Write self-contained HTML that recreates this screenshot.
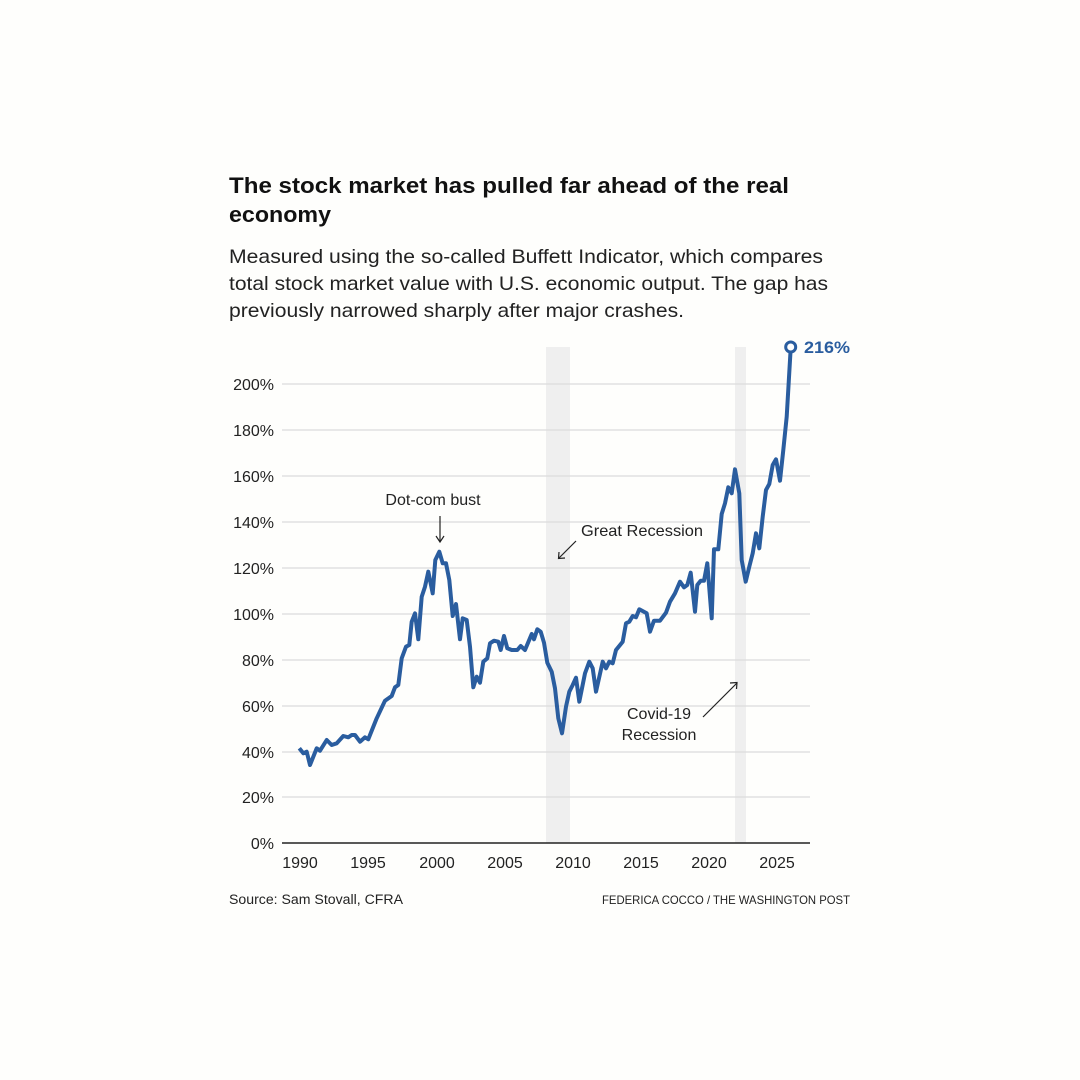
<!DOCTYPE html>
<html><head><meta charset="utf-8"><style>
html,body{margin:0;padding:0;background:#fefefc;}
svg{display:block;font-family:"Liberation Sans",sans-serif;}
</style></head><body>
<svg width="1080" height="1080" viewBox="0 0 1080 1080">
<rect width="1080" height="1080" fill="#fefefc"/>
<text x="229" y="193" font-size="22" font-weight="bold" fill="#111" textLength="560" lengthAdjust="spacingAndGlyphs">The stock market has pulled far ahead of the real</text>
<text x="229" y="222" font-size="22" font-weight="bold" fill="#111" textLength="102" lengthAdjust="spacingAndGlyphs">economy</text>
<text x="229" y="263" font-size="19.5" fill="#222" textLength="594" lengthAdjust="spacingAndGlyphs">Measured using the so-called Buffett Indicator, which compares</text>
<text x="229" y="290" font-size="19.5" fill="#222" textLength="599" lengthAdjust="spacingAndGlyphs">total stock market value with U.S. economic output. The gap has</text>
<text x="229" y="317" font-size="19.5" fill="#222" textLength="455" lengthAdjust="spacingAndGlyphs">previously narrowed sharply after major crashes.</text>
<rect x="546" y="347" width="24" height="496" fill="#efefef"/>
<rect x="735" y="347" width="11" height="496" fill="#efefef"/>
<g stroke="#dcdcdc" stroke-width="1.2">
<line x1="282" x2="810" y1="384" y2="384"/><line x1="282" x2="810" y1="430" y2="430"/>
<line x1="282" x2="810" y1="476" y2="476"/><line x1="282" x2="810" y1="522" y2="522"/>
<line x1="282" x2="810" y1="568" y2="568"/><line x1="282" x2="810" y1="614" y2="614"/>
<line x1="282" x2="810" y1="660" y2="660"/><line x1="282" x2="810" y1="706" y2="706"/>
<line x1="282" x2="810" y1="752" y2="752"/><line x1="282" x2="810" y1="797" y2="797"/>
</g>
<line x1="282" x2="810" y1="843" y2="843" stroke="#222" stroke-width="1.5"/>
<g font-size="16" fill="#222" text-anchor="end">
<text x="274" y="390">200%</text><text x="274" y="436">180%</text><text x="274" y="482">160%</text>
<text x="274" y="528">140%</text><text x="274" y="574">120%</text><text x="274" y="620">100%</text>
<text x="274" y="666">80%</text><text x="274" y="712">60%</text><text x="274" y="758">40%</text>
<text x="274" y="803">20%</text><text x="274" y="849">0%</text>
</g>
<g font-size="16" fill="#222" text-anchor="middle">
<text x="300" y="868">1990</text><text x="368" y="868">1995</text><text x="437" y="868">2000</text>
<text x="505" y="868">2005</text><text x="573" y="868">2010</text><text x="641" y="868">2015</text>
<text x="709" y="868">2020</text><text x="777" y="868">2025</text>
</g>
<polyline fill="none" stroke="#2a5d9f" stroke-width="4" stroke-linejoin="round" points="299.3,748.3 303.3,753.3 306.7,751.7 310,765 316.7,748.3 320,750.7 326.7,740 331.7,745 336.7,743.3 343.3,736 348.3,737.3 351.7,735 355,735 360,741.7 365,737.3 368.3,739.3 376.7,718.3 385,700.7 391.7,696 395,687.3 398.3,685 401.7,658.3 406,646.7 409.3,645 411.7,621.7 415,613.3 418.3,639.3 421.7,596.7 425,586.7 428.3,571.7 432.7,593.3 435.3,560 439.3,551.7 442.7,563.3 446,563.3 449.3,580 452.7,616 456,604 460,639.3 462.7,618.3 466.7,620 470,646.7 473.3,687.3 476.7,676.7 480,682.7 483.3,661.7 487.3,658.3 490,643.3 494,640.7 498.3,641.7 500.7,650 504,636 507.3,648.3 511.7,650 517.3,650 520.7,646 525,650 531.7,634 534,639.3 537.3,629.3 540.7,631.7 544,642.7 547.3,662.7 551.7,671.7 555,688.3 558.3,718.3 562,733.3 566,706.7 569.3,691.7 572.7,685 576,677.7 579.3,701.7 585,673.3 589.3,661.7 592.7,668.3 596,691.7 602.7,661.7 606,668.3 609.3,661.7 612.7,663.3 616,650 622.7,641.7 626,623.3 629.3,621.7 632.7,616 636,617.3 639.3,609.3 646.7,613.3 650,631.7 654,620.7 660,620.7 666,612.7 670,601.7 675,593.3 680,581.7 684,587.3 687.3,585 690.7,572.7 695,611.7 697.3,585 700.7,580.7 704,580.7 707.3,563.3 711.7,618.3 714,549.3 718.3,549.3 721.7,514 725,503.3 728.3,487.3 731.7,493.3 735,469.3 739.3,493.3 741.7,560 745.7,581.7 749.3,566.7 752.7,553.3 756,533.3 759.3,548.3 762.7,516.7 766,490 769.3,484 772.7,465 776,459.3 780,480.7 783.3,450 786.7,416.7 790.7,348.3"/>
<circle cx="790.7" cy="347" r="5" fill="#fff" stroke="#2a5d9f" stroke-width="3"/>
<text x="804" y="353" font-size="17" font-weight="bold" fill="#2a5d9f" textLength="46" lengthAdjust="spacingAndGlyphs">216%</text>
<g font-size="16" fill="#222">
<text x="433" y="505" text-anchor="middle">Dot-com bust</text>
<text x="581" y="536" textLength="122" lengthAdjust="spacingAndGlyphs">Great Recession</text>
<text x="659" y="719" text-anchor="middle">Covid-19</text>
<text x="659" y="740" text-anchor="middle">Recession</text>
</g>
<g stroke="#222" stroke-width="1.2" fill="none">
<line x1="440" y1="516" x2="440" y2="541"/><polyline points="436,536 440,542 444,536"/>
<line x1="576" y1="541" x2="559" y2="558"/><polyline points="559,552 558.5,558.5 565,558"/>
<line x1="703" y1="717" x2="737" y2="683"/><polyline points="730,683 737,682.5 736.5,689"/>
</g>
<text x="229" y="904" font-size="13.5" fill="#222" textLength="174" lengthAdjust="spacingAndGlyphs">Source: Sam Stovall, CFRA</text>
<text x="602" y="904" font-size="12" fill="#222" textLength="248" lengthAdjust="spacingAndGlyphs">FEDERICA COCCO / THE WASHINGTON POST</text>
</svg>
</body></html>
